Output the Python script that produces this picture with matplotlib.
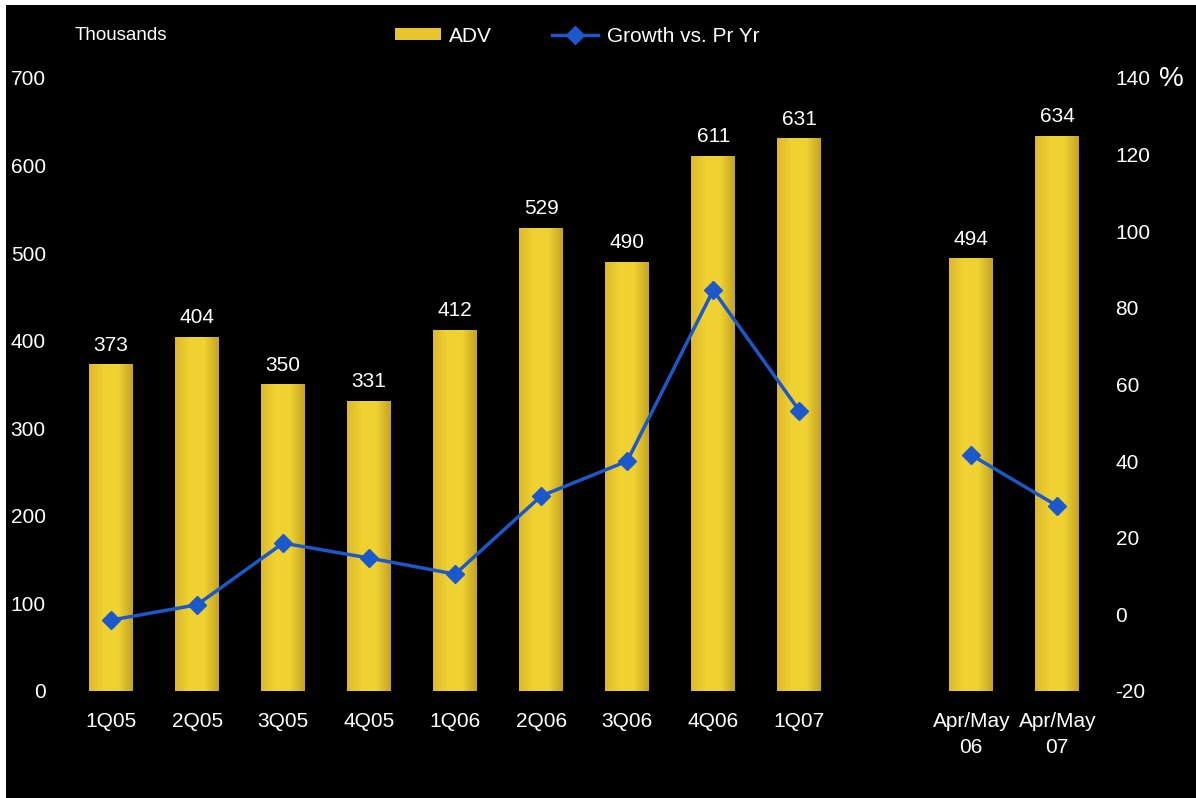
import numpy as np
import matplotlib.pyplot as plt
from matplotlib.patches import Rectangle
from matplotlib.colors import LinearSegmentedColormap
from matplotlib.lines import Line2D

plt.rcParams['font.family'] = ['Liberation Sans', 'DejaVu Sans']
plt.rcParams['axes.unicode_minus'] = False

labels = ["1Q05", "2Q05", "3Q05", "4Q05", "1Q06", "2Q06", "3Q06", "4Q06", "1Q07",
          "Apr/May\n06", "Apr/May\n07"]
positions = [0, 1, 2, 3, 4, 5, 6, 7, 8, 10, 11]
adv = [373, 404, 350, 331, 412, 529, 490, 611, 631, 494, 634]
growth = [-1.5, 2.5, 18.6, 14.7, 10.5, 30.9, 40.0, 84.6, 53.2, 41.6, 28.3]

BAR_W = 0.51
LINE_C = "#1B58CC"
FS = 15
bar_cmap = LinearSegmentedColormap.from_list(
    "gold", ["#DDB92C", "#F0D231", "#EFD232", "#C4A422"])

fig = plt.figure(figsize=(11.96, 7.98), dpi=100, facecolor="white")
# black panel with a thin white strip on the left and top
fig.patches.append(Rectangle((6 / 1196, 0), 1, 1 - 5 / 798, transform=fig.transFigure,
                             facecolor="black", edgecolor="none", zorder=-10))

ax = fig.add_axes([0.0569, 0.1341, 0.8631, 0.7682])
ax.set_facecolor("none")
ax.set_xlim(-0.5, 11.5)
ax.set_ylim(0, 700)

grad = np.linspace(0, 1, 64).reshape(1, -1)
for x, v in zip(positions, adv):
    rect = Rectangle((x - BAR_W / 2, 0), BAR_W, v, facecolor="none", edgecolor="none")
    ax.add_patch(rect)
    im = ax.imshow(grad, cmap=bar_cmap, aspect="auto",
                   extent=(x - BAR_W / 2, x + BAR_W / 2, 0, v), zorder=1)
    im.set_clip_path(rect)
    ax.annotate(str(v), (x, v), xytext=(0, 7), textcoords="offset points",
                ha="center", va="bottom", color="white", fontsize=FS)

ax.set_xticks(positions)
ax.set_xticklabels(labels, linespacing=1.45)
ax.set_yticks(range(0, 701, 100))
ax.tick_params(axis="x", length=0, pad=15, colors="white", labelsize=FS)
ax.tick_params(axis="y", length=0, pad=16, colors="white", labelsize=FS)
for s in ax.spines.values():
    s.set_visible(False)

ax2 = ax.twinx()
ax2.set_ylim(-20, 140)
ax2.set_yticks(range(-20, 141, 20))
ax2.tick_params(axis="y", length=0, pad=11, colors="white", labelsize=FS)
for s in ax2.spines.values():
    s.set_visible(False)

gx = positions[:9] + [np.nan] + positions[9:]
gy = growth[:9] + [np.nan] + growth[9:]
ax2.plot(gx, gy, color=LINE_C, lw=2.5, marker="D", markersize=9.5, zorder=3)

fig.text(75 / 1196, 1 - 36 / 798, "Thousands", color="white", fontsize=13.5, va="center")
fig.text(1159 / 1196, 1 - 79 / 798, "%", color="white", fontsize=20, va="center")

handles = [Rectangle((0, 0), 1, 1, facecolor="#E6C52E"),
           Line2D([], [], color=LINE_C, lw=2.5, marker="D", markersize=9)]
leg = fig.legend(handles, ["ADV", "Growth vs. Pr Yr"], loc="center",
                 bbox_to_anchor=(577 / 1196, 1 - 36 / 798), ncol=2, frameon=False,
                 fontsize=FS, labelcolor="white", handlelength=2.2, handleheight=0.55,
                 columnspacing=2.9, handletextpad=0.4)

fig.savefig("out.png", dpi=100, facecolor=fig.get_facecolor())
